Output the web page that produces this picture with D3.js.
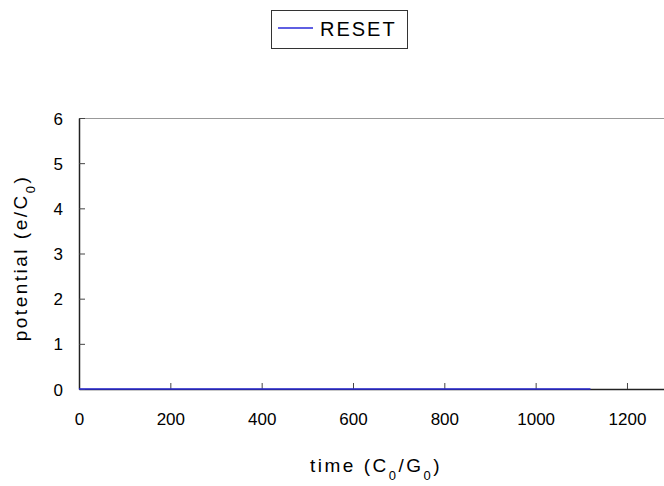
<!DOCTYPE html>
<html>
<head>
<meta charset="utf-8">
<script src="https://cdn.jsdelivr.net/npm/d3@7"></script>
<style>
  body { margin: 0; background: #fff; }
  svg { display: block; }
</style>
</head>
<body>
<div id="chart"></div>
<script>
// Data
const time = [0, 280, 560, 840, 1120];
const potential = [0, 0, 0, 0, 0];
const xTicks = [0, 200, 400, 600, 800, 1000, 1200];
const yTicks = [0, 1, 2, 3, 4, 5, 6];
const seriesName = 'RESET';

const width = 664, height = 486;
const plotLeft = 79, plotTop = 118, plotBottom = 389;
const font = '"Liberation Sans", Arial, sans-serif';

const svg = d3.select('#chart').append('svg')
  .attr('width', width)
  .attr('height', height);

// x runs past the window edge, as in the original
const x = d3.scaleLinear().domain([0, 1300]).range([plotLeft, plotLeft + 6.5 * 91.33]);
const y = d3.scaleLinear().domain([0, 6]).range([plotBottom, plotTop]);

// Top border of plot area
svg.append('line')
  .attr('x1', plotLeft).attr('x2', width)
  .attr('y1', plotTop + 0.5).attr('y2', plotTop + 0.5)
  .attr('stroke', '#999').attr('stroke-width', 1);

// Axes with inward ticks
const xAxis = svg.append('g')
  .attr('transform', `translate(0,${plotBottom})`)
  .call(d3.axisBottom(x).tickValues(xTicks).tickFormat(d3.format('d'))
    .tickSize(-6).tickSizeOuter(0).tickPadding(0));
xAxis.select('.domain').attr('stroke', '#222').attr('stroke-width', 1.5);
xAxis.selectAll('.tick line').attr('stroke', '#444');
xAxis.selectAll('.tick text').attr('y', 36).attr('dy', null);

const yAxis = svg.append('g')
  .attr('transform', `translate(${plotLeft},0)`)
  .call(d3.axisLeft(y).tickValues(yTicks).tickFormat(d3.format('d'))
    .tickSize(-6).tickSizeOuter(0).tickPadding(0));
yAxis.select('.domain').attr('stroke', '#222').attr('stroke-width', 1.5);
yAxis.selectAll('.tick line').attr('stroke', '#444');
yAxis.selectAll('.tick text').attr('x', -16).attr('dy', '0.36em');

svg.selectAll('g').attr('font-family', null).attr('font-size', null);
svg.selectAll('.tick text')
  .style('font-family', font)
  .style('font-size', '17px')
  .style('fill', '#000');

// Series line
const line = d3.line().x((d, i) => x(time[i])).y(d => y(d));
svg.append('path')
  .datum(potential)
  .attr('fill', 'none')
  .attr('stroke', '#2a2ad8')
  .attr('stroke-width', 1.5)
  .attr('d', line);

// Axis titles
function titleText(sel) {
  return sel.style('font-family', font)
    .style('font-size', '19px')
    .style('letter-spacing', '2.5px')
    .style('fill', '#000');
}

const xTitle = svg.append('text')
  .call(titleText)
  .attr('x', 376).attr('y', 472)
  .attr('text-anchor', 'middle');
xTitle.append('tspan').text('time (C');
xTitle.append('tspan').attr('baseline-shift', 'sub').style('font-size', '13px').text('0');
xTitle.append('tspan').text('/G');
xTitle.append('tspan').attr('baseline-shift', 'sub').style('font-size', '13px').text('0');
xTitle.append('tspan').text(')');

const yTitle = svg.append('text')
  .call(titleText)
  .attr('transform', 'translate(27,258) rotate(-90)')
  .attr('text-anchor', 'middle');
yTitle.append('tspan').text('potential (e/C');
yTitle.append('tspan').attr('baseline-shift', 'sub').style('font-size', '13px').text('0');
yTitle.append('tspan').text(')');

// Legend
const legend = svg.append('g');
legend.append('rect')
  .attr('x', 271.5).attr('y', 10.5)
  .attr('width', 136).attr('height', 38)
  .attr('fill', '#fff').attr('stroke', '#333');
legend.append('line')
  .attr('x1', 278).attr('x2', 313)
  .attr('y1', 28).attr('y2', 28)
  .attr('stroke', '#2a2ad8').attr('stroke-width', 1.5);
legend.append('text')
  .call(titleText)
  .attr('x', 320).attr('y', 36)
  .style('font-size', '20px')
  .style('letter-spacing', '2px')
  .text(seriesName);
</script>
</body>
</html>
